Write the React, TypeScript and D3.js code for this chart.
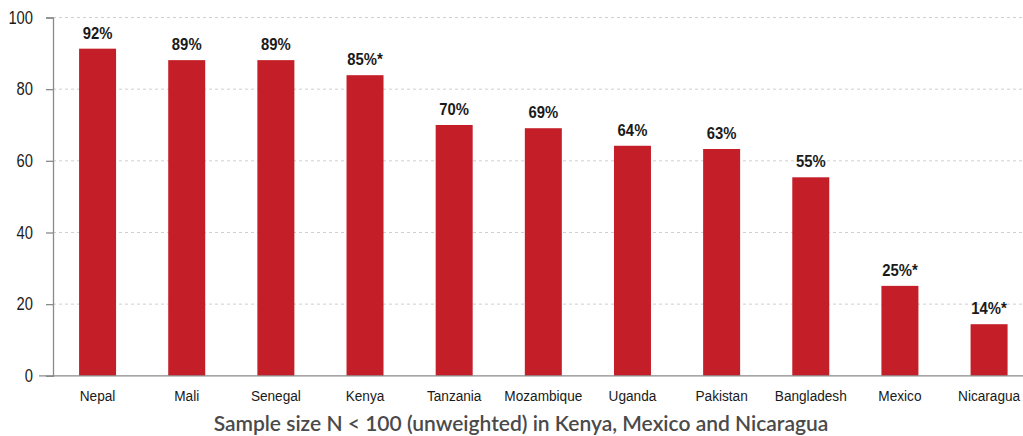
import { useEffect, useRef } from 'react'
import * as d3 from 'd3'

const countries = ['Nepal', 'Mali', 'Senegal', 'Kenya', 'Tanzania', 'Mozambique', 'Uganda', 'Pakistan', 'Bangladesh', 'Mexico', 'Nicaragua']
const values = [91.3, 88.1, 88.1, 83.9, 70.0, 69.1, 64.2, 63.3, 55.4, 25.1, 14.4]
const valueLabels = ['92%', '89%', '89%', '85%*', '70%', '69%', '64%', '63%', '55%', '25%*', '14%*']
const yTicks = [0, 20, 40, 60, 80, 100]
const caption = 'Sample size N < 100 (unweighted) in Kenya, Mexico and Nicaragua'

const W = 1023
const H = 436
const BAR = '#c41f29'
const SANS = '"Liberation Sans", Arial, sans-serif'

export default function App() {
  const ref = useRef<SVGSVGElement>(null)

  useEffect(() => {
    if (!ref.current) return
    d3.select(ref.current).selectAll('*').remove()
    render(ref.current)
  }, [])

  return (
    <svg
      ref={ref}
      width={W}
      height={H}
      style={{ position: 'absolute', left: 0, top: 0, background: '#fff', display: 'block' }}
    />
  )
}

function render(el: SVGSVGElement) {
  const svg = d3.select(el).attr('viewBox', `0 0 ${W} ${H}`)
  const left = 53
  const x = d3
    .scaleBand()
    .domain(countries)
    .range([left, left + 89.15 * countries.length])
    .paddingInner(0.585)
    .paddingOuter(0.2925)
  const y = d3.scaleLinear().domain([0, 100]).range([375.8, 17.5])

  // Grid
  svg.append('g')
    .selectAll('line')
    .data(yTicks.filter((t) => t > 0))
    .join('line')
    .attr('x1', left)
    .attr('x2', W)
    .attr('y1', (d) => y(d))
    .attr('y2', (d) => y(d))
    .attr('stroke', '#cfcfcf')
    .attr('stroke-dasharray', '3,3')

  // Bars
  svg.append('g')
    .selectAll('rect')
    .data(countries)
    .join('rect')
    .attr('x', (d) => x(d)!)
    .attr('width', x.bandwidth())
    .attr('y', (_, i) => y(values[i]))
    .attr('height', (_, i) => y(0) - y(values[i]))
    .attr('fill', BAR)

  // Value labels (condensed to mimic a narrow face)
  svg.append('g')
    .selectAll('text')
    .data(countries)
    .join('text')
    .attr('transform', (d, i) => `translate(${x(d)! + x.bandwidth() / 2},${y(values[i]) - 10}) scale(0.9,1)`)
    .attr('text-anchor', 'middle')
    .attr('font-family', SANS)
    .attr('font-weight', 'bold')
    .attr('font-size', 16.5)
    .attr('fill', '#1a1a1a')
    .text((_, i) => valueLabels[i])

  // Y axis
  const sy = 0.82
  svg.append('g')
    .attr('transform', `translate(${left},0)`)
    .call(d3.axisLeft(y).tickValues(yTicks).tickSize(7).tickPadding(13).tickFormat((v) => `${v}`))
    .call((sel) => sel.select('.domain').attr('stroke', '#8a8a8a').attr('stroke-width', 1.3))
    .call((sel) => sel.selectAll('line').attr('stroke', '#8a8a8a').attr('stroke-width', 1.3))
    .call((sel) =>
      sel.selectAll('text')
        .attr('x', -20 / sy)
        .attr('transform', `scale(${sy},1)`)
        .attr('font-family', SANS)
        .attr('font-size', 18)
        .attr('fill', '#1a1a1a')
    )

  // X axis
  svg.append('g')
    .attr('transform', `translate(0,${y(0)})`)
    .call(d3.axisBottom(x).tickSize(0).tickPadding(14))
    .call((sel) => sel.select('.domain').attr('stroke', '#8a8a8a').attr('stroke-width', 1.3).attr('d', `M${left - 14},0H${W}`))
    .call((sel) =>
      sel.selectAll('text')
        .attr('transform', 'scale(0.88,1)')
        .attr('font-family', SANS)
        .attr('font-size', 15.5)
        .attr('fill', '#1a1a1a')
    )

  // Caption
  svg.append('text')
    .attr('x', 521)
    .attr('y', 431)
    .attr('text-anchor', 'middle')
    .attr('font-family', 'Lato, "Open Sans", sans-serif')
    .attr('font-size', 21)
    .attr('font-weight', 600)
    .attr('fill', '#4a4a4a')
    .text(caption)
}
